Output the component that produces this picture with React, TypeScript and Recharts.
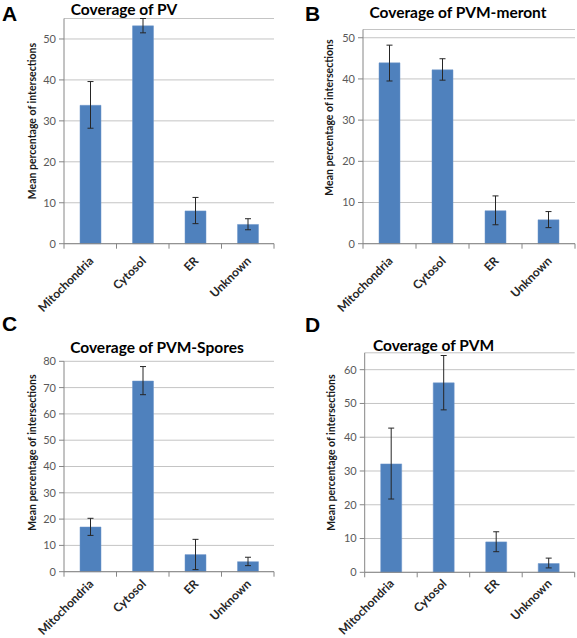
import React from 'react';
import { BarChart, Bar, XAxis, YAxis, CartesianGrid, ErrorBar, Text } from 'recharts';

const categories = ['Mitochondria', 'Cytosol', 'ER', 'Unknown'];

// A - Coverage of PV
const pvMeans = [33.8, 53.2, 8.0, 4.7];
const pvLows = [28.2, 51.5, 4.9, 3.4];
const pvHighs = [39.6, 55.0, 11.3, 6.1];
const pvTicks = [0, 10, 20, 30, 40, 50];

// B - Coverage of PVM-meront
const meronMeans = [43.9, 42.2, 8.0, 5.8];
const meronLows = [39.5, 39.7, 4.6, 3.9];
const meronHighs = [48.2, 44.9, 11.6, 7.8];
const meronTicks = [0, 10, 20, 30, 40, 50];

// C - Coverage of PVM-Spores
const sporeMeans = [17.0, 72.5, 6.5, 3.8];
const sporeLows = [13.8, 67.3, 0.8, 2.3];
const sporeHighs = [20.3, 78.0, 12.3, 5.5];
const sporeTicks = [0, 10, 20, 30, 40, 50, 60, 70, 80];

// D - Coverage of PVM
const pvmMeans = [32.1, 56.1, 9.0, 2.6];
const pvmLows = [21.7, 48.1, 6.1, 1.3];
const pvmHighs = [42.7, 64.2, 12.0, 4.2];
const pvmTicks = [0, 10, 20, 30, 40, 50, 60];

const yLabel = 'Mean percentage of intersections';
const FONT = 'Lato, "Open Sans", sans-serif';

const CategoryTick = (props: any) => {
  const { x, y, payload, index, visibleTicksCount, labelDrop } = props;
  const half = payload.offset || 26;
  return (
    <g>
      <line x1={x - half} y1={y} x2={x - half} y2={y + 5} stroke="#868686" />
      {index === visibleTicksCount - 1 && (
        <line x1={x + half} y1={y} x2={x + half} y2={y + 5} stroke="#868686" />
      )}
      <Text
        x={x + 4}
        y={y + labelDrop}
        angle={-45}
        textAnchor="end"
        verticalAnchor="end"
        fontFamily={FONT}
        fontWeight={700}
        fontSize={12}
        fill="#262626"
      >
        {payload.value}
      </Text>
    </g>
  );
};

function Panel({ cfg }: { cfg: any }) {
  const data = categories.map((name, i) => ({
    name,
    mean: cfg.means[i],
    err: [cfg.means[i] - cfg.lows[i], cfg.highs[i] - cfg.means[i]],
  }));

  const renderYLabel = (p: any) => {
    const vb = p.viewBox;
    const cx = vb.x + vb.width / 2 + cfg.labelDx;
    const cy = vb.y + vb.height / 2 + cfg.labelDy;
    return (
      <text
        x={cx}
        y={cy}
        transform={`rotate(-90, ${cx}, ${cy})`}
        textAnchor="middle"
        dominantBaseline="central"
        fontFamily={FONT}
        fontWeight={700}
        fontSize={10.5}
        fill="#1a1a1a"
      >
        {yLabel}
      </text>
    );
  };

  return (
    <div
      style={{
        position: 'absolute',
        left: cfg.left,
        top: cfg.top,
        width: cfg.width,
        height: cfg.height,
      }}
    >
      <BarChart
        width={cfg.width}
        height={cfg.height}
        data={data}
        margin={{ top: cfg.plotTop, right: cfg.right, left: 0, bottom: 0 }}
      >
        <CartesianGrid vertical={false} stroke="#C4C4C4" />
        <XAxis
          dataKey="name"
          height={cfg.xAxisHeight}
          interval={0}
          tickLine={false}
          tickSize={0}
          tickMargin={0}
          axisLine={{ stroke: '#868686' }}
          tick={<CategoryTick labelDrop={cfg.labelDrop} />}
        />
        <YAxis
          width={cfg.yAxisWidth}
          domain={[0, cfg.yMax]}
          ticks={cfg.ticks}
          interval={0}
          tickSize={5}
          tickMargin={3}
          axisLine={{ stroke: '#868686' }}
          tickLine={{ stroke: '#868686' }}
          tick={{ fontFamily: FONT, fontSize: 11, fill: '#595959' }}
          label={{ content: renderYLabel }}
        />
        <Bar dataKey="mean" fill="#4F81BD" stroke="#6E97CB" strokeWidth={0.5} barSize={21} isAnimationActive={false}>
          <ErrorBar dataKey="err" direction="y" width={3} stroke="#262626" strokeWidth={1} />
        </Bar>
      </BarChart>
      <div
        style={{
          position: 'absolute',
          left: cfg.letterX,
          top: cfg.letterY,
          fontFamily: '"Liberation Sans", Arial, sans-serif',
          fontWeight: 700,
          fontSize: 21,
          lineHeight: '21px',
          color: '#000',
        }}
      >
        {cfg.letter}
      </div>
      <div
        style={{
          position: 'absolute',
          left: cfg.titleCx - 120,
          width: 240,
          top: cfg.titleY,
          textAlign: 'center',
          fontFamily: FONT,
          fontWeight: 700,
          fontSize: 15.5,
          lineHeight: '16px',
          color: '#000',
        }}
      >
        {cfg.title}
      </div>
    </div>
  );
}

const panels = [
  {
    letter: 'A', title: 'Coverage of PV', means: pvMeans, lows: pvLows, highs: pvHighs, ticks: pvTicks, yMax: 55,
    left: 0, top: 0, width: 288, height: 319, plotTop: 18.5, right: 14, yAxisWidth: 64, xAxisHeight: 75.3,
    labelDx: 0, labelDy: -10, letterX: 2, letterY: 3, titleCx: 124, titleY: 1, labelDrop: 18,
  },
  {
    letter: 'B', title: 'Coverage of PVM-meront', means: meronMeans, lows: meronLows, highs: meronHighs, ticks: meronTicks, yMax: 52,
    left: 288, top: 0, width: 289, height: 319, plotTop: 29.5, right: 2, yAxisWidth: 75, xAxisHeight: 75.3,
    labelDx: 4, labelDy: -19, letterX: 17, letterY: 3, titleCx: 170, titleY: 4, labelDrop: 18,
  },
  {
    letter: 'C', title: 'Coverage of PVM-Spores', means: sporeMeans, lows: sporeLows, highs: sporeHighs, ticks: sporeTicks, yMax: 80,
    left: 0, top: 319, width: 288, height: 319, plotTop: 42.3, right: 14, yAxisWidth: 64, xAxisHeight: 66.3,
    labelDx: 0, labelDy: -14, letterX: 2, letterY: -6, titleCx: 157, titleY: 20, labelDrop: 13,
  },
  {
    letter: 'D', title: 'Coverage of PVM', means: pvmMeans, lows: pvmLows, highs: pvmHighs, ticks: pvmTicks, yMax: 65,
    left: 288, top: 319, width: 289, height: 319, plotTop: 33.8, right: 2.3, yAxisWidth: 76.7, xAxisHeight: 65.7,
    labelDx: 4.7, labelDy: -10, letterX: 17, letterY: -5, titleCx: 145.5, titleY: 18, labelDrop: 12,
  },
];

export default function App() {
  return (
    <div
      style={{
        position: 'absolute',
        left: 0,
        top: 0,
        width: 577,
        height: 638,
        background: '#fff',
        overflow: 'hidden',
      }}
    >
      {panels.map((p) => (
        <Panel key={p.letter} cfg={p} />
      ))}
    </div>
  );
}
